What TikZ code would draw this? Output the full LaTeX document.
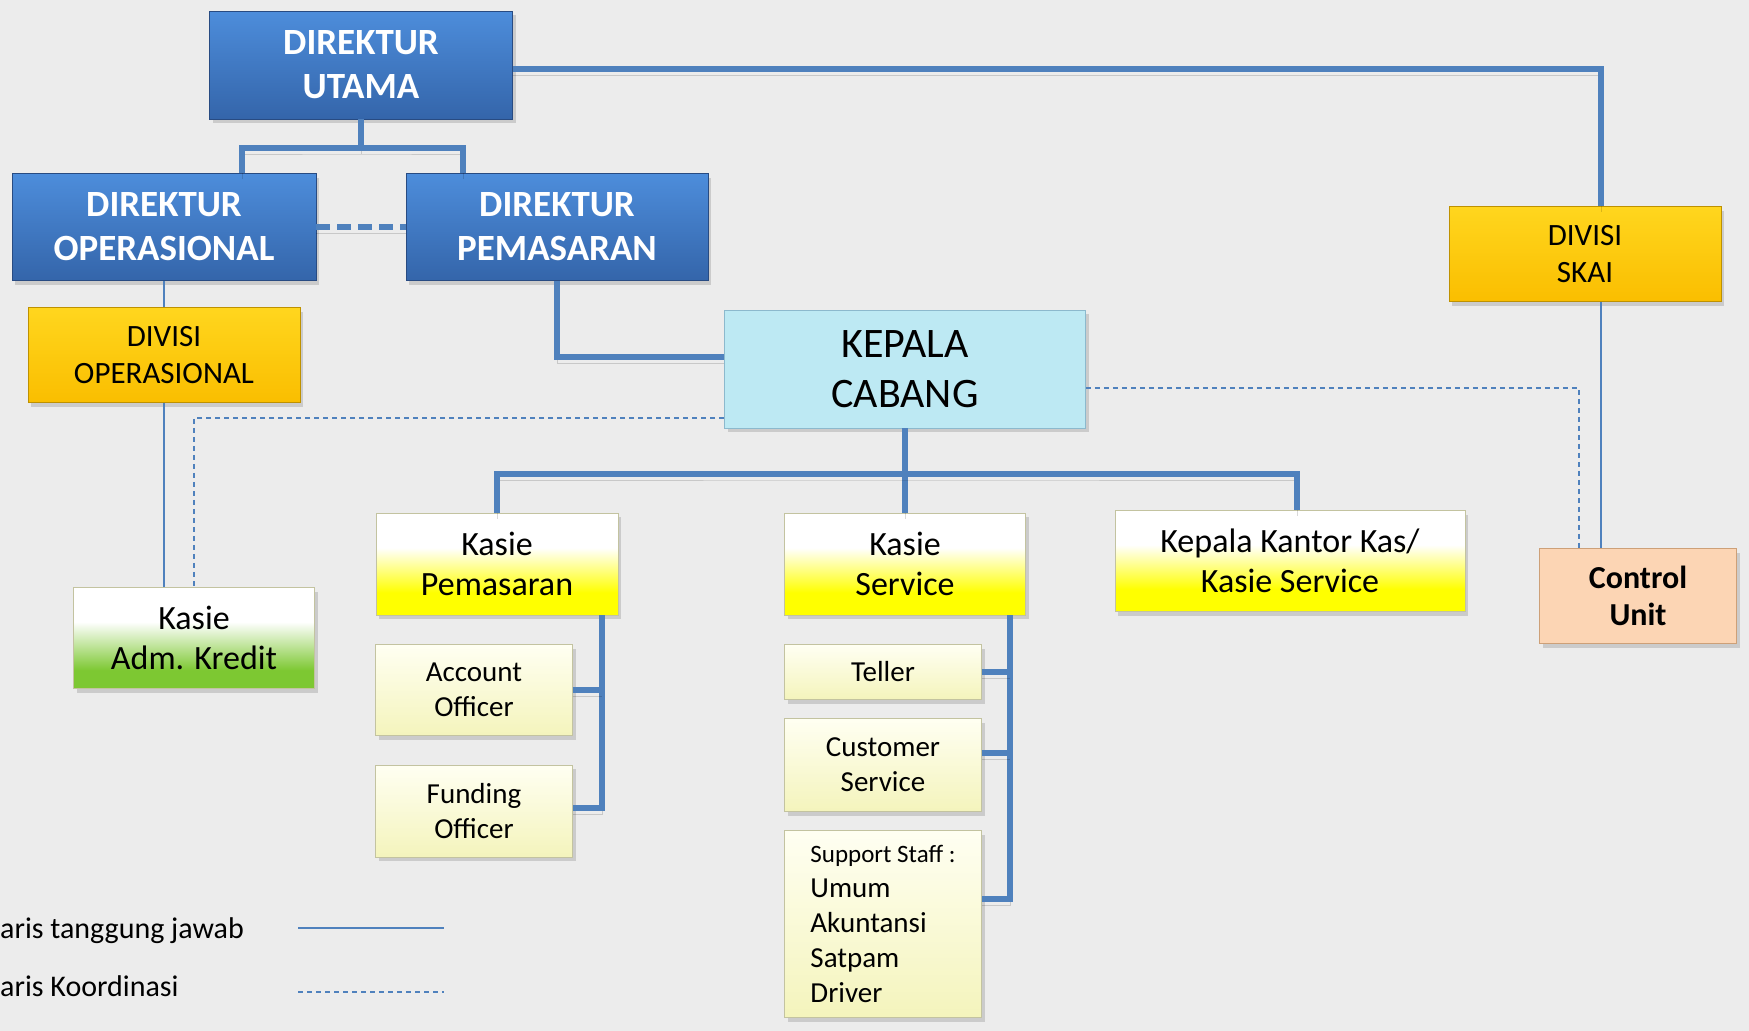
\documentclass[tikz,border=0pt]{standalone}
\usepackage{fontspec}
\setmainfont{Carlito}
\usetikzlibrary{positioning, shadows, calc}

\definecolor{garis}{RGB}{79,129,189}
\definecolor{latar}{RGB}{236,236,236}
\definecolor{dirtop}{RGB}{77,141,219}
\definecolor{dirbot}{RGB}{52,101,170}
\definecolor{dirline}{RGB}{40,75,130}
\definecolor{emastop}{RGB}{255,214,30}
\definecolor{emasbot}{RGB}{250,190,0}
\definecolor{emasline}{RGB}{190,145,0}
\definecolor{kcfill}{RGB}{189,233,243}
\definecolor{kcline}{RGB}{140,185,205}
\definecolor{cufill}{RGB}{252,213,180}
\definecolor{culine}{RGB}{205,160,120}
\definecolor{kuning}{RGB}{255,255,0}
\definecolor{hijau}{RGB}{125,200,50}
\definecolor{krimtop}{RGB}{255,255,242}
\definecolor{krimbot}{RGB}{244,244,188}
\definecolor{krimline}{RGB}{195,195,160}

\pgfdeclareverticalshading{kasiekuning}{100bp}{color(0bp)=(kuning); color(25bp)=(kuning); color(36bp)=(kuning); color(58bp)=(white); color(75bp)=(white); color(100bp)=(white)}
\pgfdeclareverticalshading{kasiehijau}{100bp}{color(0bp)=(hijau); color(25bp)=(hijau); color(34bp)=(hijau); color(58bp)=(white); color(75bp)=(white); color(100bp)=(white)}

\begin{document}
\begin{tikzpicture}[%
		x=1pt, y=-1pt,
		bayang/.style={
			drop shadow={shadow xshift=3pt, shadow yshift=-4pt, opacity=.3}
		},
		direktur/.style={
			rectangle,
			minimum width=303pt,
			minimum height=108pt,
			top color=dirtop,
			bottom color=dirbot,
			draw=dirline,
			thick,
			text=white,
			align=center,
			font=\fontsize{37}{44}\selectfont\bfseries,
			bayang
		},
		divisi/.style={
			rectangle,
			minimum width=272pt,
			minimum height=95pt,
			top color=emastop,
			bottom color=emasbot,
			draw=emasline,
			align=center,
			font=\fontsize{31}{37}\selectfont,
			bayang
		},
		kepala/.style={
			rectangle,
			minimum width=361pt,
			minimum height=118pt,
			fill=kcfill,
			draw=kcline,
			thick,
			align=center,
			font=\fontsize{42}{50}\selectfont,
			bayang
		},
		kontrol/.style={
			rectangle,
			minimum width=197pt,
			minimum height=95pt,
			fill=cufill,
			draw=culine,
			align=center,
			font=\fontsize{32}{37}\selectfont\bfseries,
			bayang
		},
		kasie/.style={
			rectangle,
			minimum width=242pt,
			minimum height=102pt,
			shading=kasiekuning,
			draw=krimline,
			align=center,
			font=\fontsize{34}{40}\selectfont,
			bayang
		},
		staf/.style={
			rectangle,
			minimum width=197pt,
			minimum height=92pt,
			top color=krimtop,
			bottom color=krimbot,
			draw=krimline,
			align=center,
			font=\fontsize{29}{35}\selectfont,
			bayang
		},
		keterangan/.style={
			anchor=base west,
			inner sep=0pt,
			font=\fontsize{30}{36}\selectfont
		},
		bayanggaris/.style={
			preaction={draw=black, draw opacity=.15, transform canvas={yshift=-6pt}}
		},
		tebal/.style={
			draw=garis,
			line width=5.5pt,
			bayanggaris
		},
		tipis/.style={
			draw=garis,
			line width=2.5pt
		},
		putus/.style={
			draw=garis,
			line width=1.6pt,
			dash pattern=on 5pt off 4pt
		},
		putustebal/.style={
			draw=garis,
			line width=6pt,
			dash pattern=on 14pt off 7pt,
			bayanggaris
		}]

		% BACKGROUND

		\fill[latar] (0,0) rectangle (1749,1031);
		\useasboundingbox (0,0) rectangle (1749,1031);

		% DIREKSI

		\node (DU) [direktur] at (361,65) {DIREKTUR \\ UTAMA};
		\node (DO) [direktur, minimum width=304pt, minimum height=107pt] at (164,227) {DIREKTUR \\ OPERASIONAL};
		\node (DP) [direktur, minimum width=302pt, minimum height=107pt] at (557,227) {DIREKTUR \\ PEMASARAN};

		% DIVISI

		\node (DIVOP) [divisi] at (164,355) {DIVISI \\ OPERASIONAL};
		\node (SKAI) [divisi] at (1585,254) {DIVISI \\ SKAI};
		\node (CU) [kontrol] at (1638,596) {Control \\ Unit};

		% CABANG

		\node (KC) [kepala] at (905,369) {KEPALA \\ CABANG};

		\node (KAK) [kasie, minimum width=241pt, minimum height=101pt, shading=kasiehijau] at (194,638) {Kasie \\ Adm. Kredit};
		\node (KP) [kasie] at (497,564) {Kasie \\ Pemasaran};
		\node (KS) [kasie, minimum width=241pt] at (905,564) {Kasie \\ Service};
		\node (KKK) [kasie, minimum width=350pt, minimum height=101pt] at (1290,561) {Kepala Kantor Kas/ \\ Kasie Service};

		\node (AO) [staf, minimum height=91pt] at (474,690) {Account \\ Officer};
		\node (FO) [staf] at (474,811) {Funding \\ Officer};

		\node (TL) [staf, minimum height=55pt] at (883,672) {Teller};
		\node (CS) [staf, minimum height=93pt] at (883,765) {Customer \\ Service};
		\node (SS) [staf, minimum height=187pt, align=left] at (883,924) {{\fontsize{25}{35}\selectfont Support Staff :} \\ Umum \\ Akuntansi \\ Satpam \\ Driver};

		% KETERANGAN

		\node (ketA) [keterangan] at (0,938) {aris tanggung jawab};
		\node (ketB) [keterangan] at (0,996) {aris Koordinasi};
		\coordinate (gA1) at (298,928);
		\coordinate (gA2) at (444,928);
		\coordinate (gB1) at (298,992);
		\coordinate (gB2) at (444,992);

		% GARIS TANGGUNG JAWAB

		\coordinate (jDU) at (361,148);
		\coordinate (jKC) at (905,474);
		\coordinate (vKP) at ([xshift=105pt]KP.south);
		\coordinate (vKS) at ([xshift=105pt]KS.south);

		\draw[tebal] (DU.south) -- (jDU);
		\draw[tebal] ([xshift=78pt]DO.north) |- (jDU) -| ([xshift=-94pt]DP.north);
		\draw[tebal] ([yshift=-4pt]DU.east) -| ([xshift=16pt]SKAI.north);
		\draw[tipis] ([xshift=16pt]SKAI.south) -- ([xshift=-37pt]CU.north);

		\draw[tipis] (DO.south) -- (DIVOP.north);
		\draw[tipis] (DIVOP.south) -- ([xshift=-30pt]KAK.north);

		\draw[tebal] (DP.south) |- ([yshift=12pt]KC.west);

		\draw[tebal] (KC.south) -- (KS.north);
		\draw[tebal] (KP.north) |- (jKC) -| ([xshift=7pt]KKK.north);

		\draw[tebal] (vKP) |- ([yshift=3pt]FO.east);
		\draw[tebal] (AO.east) -- (AO.east -| vKP);

		\draw[tebal] (vKS) |- ([yshift=25pt]SS.east);
		\draw[tebal] (TL.east) -- (TL.east -| vKS);
		\draw[tebal] ([yshift=12pt]CS.east) -- ([yshift=12pt]CS.east -| vKS);

		\draw[tipis] (gA1) -- (gA2);

		% GARIS KOORDINASI

		\draw[putustebal] (DO.east) -- (DP.west);
		\draw[putus] ([yshift=-49pt]KC.west) -| (KAK.north);
		\draw[putus] ([yshift=-19pt]KC.east) -| ([xshift=-59pt]CU.north);

		\draw[putus] (gB1) -- (gB2);
\end{tikzpicture}
\end{document}
